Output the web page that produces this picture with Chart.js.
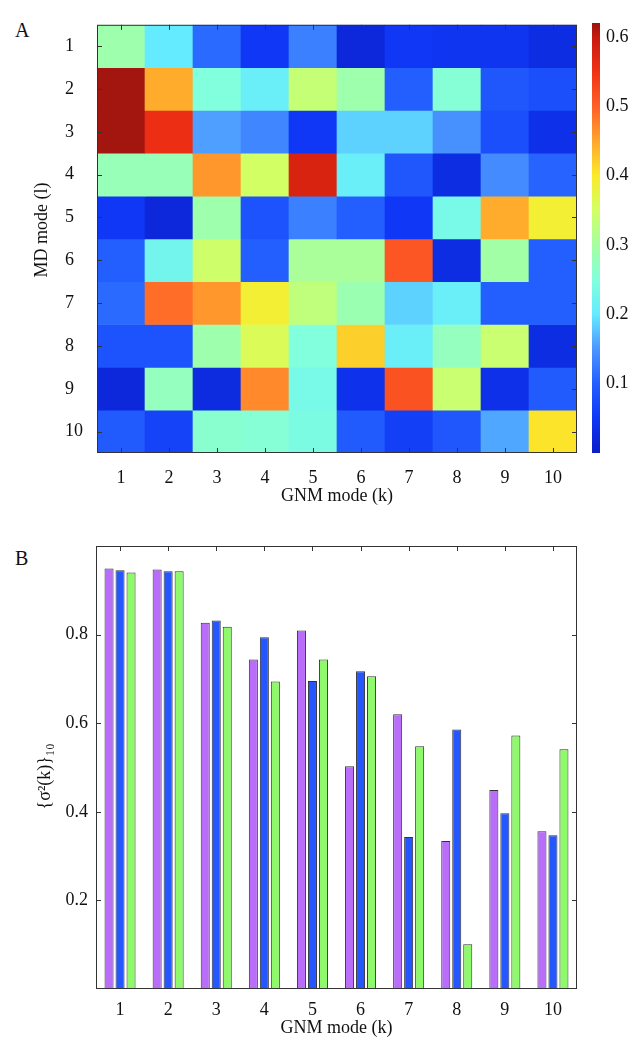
<!DOCTYPE html>
<html>
<head>
<meta charset="utf-8">
<script src="https://cdn.jsdelivr.net/npm/chart.js@4.4.0/dist/chart.umd.min.js"></script>
<style>
  body { margin: 0; background: #fff; }
  #wrap { position: relative; width: 643px; height: 1050px; }
  canvas { position: absolute; }
  .tag { position: absolute; font: 20px "Liberation Serif", serif; line-height: 20px; color: #111; }
</style>
</head>
<body>
<div id="wrap">
  <div class="tag" style="left:15px; top:20px;">A</div>
  <canvas id="heat" width="643" height="520" style="left:0; top:0;"></canvas>
  <canvas id="cbar" width="63" height="520" style="left:580px; top:0;"></canvas>
  <div class="tag" style="left:15px; top:548px;">B</div>
  <canvas id="bars" width="643" height="530" style="left:0; top:520px;"></canvas>
</div>
<script>
// ---- data ----
const gnmModes = ['1', '2', '3', '4', '5', '6', '7', '8', '9', '10'];
const mdModes = ['1', '2', '3', '4', '5', '6', '7', '8', '9', '10'];

// rows = MD mode l (top to bottom), columns = GNM mode k
const heatRows = [
  [0.29, 0.20, 0.11, 0.05, 0.13, 0.02, 0.05, 0.045, 0.045, 0.03],
  [0.615, 0.445, 0.25, 0.21, 0.335, 0.29, 0.10, 0.255, 0.09, 0.08],
  [0.615, 0.555, 0.155, 0.135, 0.05, 0.185, 0.185, 0.145, 0.08, 0.035],
  [0.28, 0.28, 0.46, 0.35, 0.58, 0.21, 0.09, 0.03, 0.14, 0.105],
  [0.05, 0.02, 0.29, 0.085, 0.13, 0.10, 0.05, 0.235, 0.445, 0.39],
  [0.10, 0.225, 0.345, 0.10, 0.305, 0.305, 0.51, 0.03, 0.295, 0.10],
  [0.11, 0.49, 0.46, 0.39, 0.33, 0.285, 0.185, 0.21, 0.10, 0.10],
  [0.085, 0.085, 0.29, 0.36, 0.25, 0.42, 0.21, 0.275, 0.34, 0.03],
  [0.02, 0.275, 0.025, 0.47, 0.235, 0.04, 0.515, 0.34, 0.035, 0.095],
  [0.095, 0.065, 0.26, 0.255, 0.24, 0.095, 0.06, 0.09, 0.16, 0.405]
];
const cbarTicks = [0.1, 0.2, 0.3, 0.4, 0.5, 0.6];
const cbarMax = 0.62;

const set1 = [0.949, 0.947, 0.827, 0.744, 0.809, 0.503, 0.620, 0.334, 0.449, 0.356];
const set2 = [0.945, 0.943, 0.832, 0.794, 0.695, 0.717, 0.343, 0.586, 0.397, 0.347];
const set3 = [0.940, 0.943, 0.818, 0.694, 0.744, 0.706, 0.548, 0.101, 0.572, 0.541];
const barTicks = [0.2, 0.4, 0.6, 0.8];

// ---- style ----
const colorStops = [
  [0.00, [10, 30, 200]],
  [0.05, [15, 55, 245]],
  [0.10, [35, 95, 255]],
  [0.15, [75, 150, 255]],
  [0.20, [100, 235, 255]],
  [0.25, [130, 255, 220]],
  [0.30, [165, 255, 160]],
  [0.35, [210, 255, 100]],
  [0.40, [250, 235, 40]],
  [0.45, [255, 165, 45]],
  [0.50, [255, 95, 40]],
  [0.55, [240, 50, 20]],
  [0.60, [200, 25, 15]],
  [0.62, [150, 20, 15]]
];

function colorFor(v) {
  for (let i = 1; i < colorStops.length; i++) {
    const [v0, c0] = colorStops[i - 1];
    const [v1, c1] = colorStops[i];
    if (v <= v1 || i === colorStops.length - 1) {
      const t = Math.max(0, Math.min(1, (v - v0) / (v1 - v0)));
      const c = c0.map((x, j) => Math.round(x + (c1[j] - x) * t));
      return 'rgb(' + c.join(',') + ')';
    }
  }
}

const font = { family: "'Liberation Serif', 'DejaVu Serif', serif", size: 18 };
const ink = '#111';
const FIG = '\u2007'; // digit-wide space, keeps the row labels left aligned
const noGrid = { display: false, drawTicks: false };

// box + inward tick marks
const framePlugin = {
  id: 'frame',
  afterDatasetsDraw(chart, args, opts) {
    const { ctx, chartArea: a, scales } = chart;
    const len = 5;
    ctx.save();
    ctx.strokeStyle = '#333';
    ctx.lineWidth = 1;
    ctx.strokeRect(a.left + 0.5, a.top + 0.5, a.width - 1, a.height - 1);
    ctx.beginPath();
    scales.x.ticks.forEach((t, i) => {
      const x = Math.round(scales.x.getPixelForTick(i)) + 0.5;
      if (opts.top) { ctx.moveTo(x, a.top); ctx.lineTo(x, a.top + len); }
      if (opts.bottom) { ctx.moveTo(x, a.bottom); ctx.lineTo(x, a.bottom - len); }
    });
    scales.y.ticks.forEach((t, i) => {
      const y = Math.round(scales.y.getPixelForTick(i)) + 0.5;
      ctx.moveTo(a.left, y); ctx.lineTo(a.left + len, y);
      ctx.moveTo(a.right, y); ctx.lineTo(a.right - len, y);
    });
    ctx.stroke();
    ctx.restore();
  }
};

// ---- A: heat map ----
new Chart(document.getElementById('heat'), {
  type: 'bar',
  data: {
    labels: gnmModes,
    datasets: mdModes.map((m, i) => ({
      label: 'MD mode ' + m,
      data: heatRows[i].map(() => [9 - i, 10 - i]),
      backgroundColor: heatRows[i].map(colorFor),
      borderWidth: 0,
      barPercentage: 1,
      categoryPercentage: 1,
      grouped: false
    }))
  },
  options: {
    responsive: false,
    animation: false,
    layout: { padding: { top: 23, right: 66, left: 0, bottom: 0 } },
    plugins: { legend: { display: false }, tooltip: { enabled: false }, frame: { top: true, bottom: true } },
    scales: {
      x: {
        grid: noGrid,
        border: { display: false },
        ticks: { font: font, color: ink, padding: 14, maxRotation: 0 },
        title: { display: true, text: 'GNM mode (k)', font: font, color: ink, padding: { top: 0, bottom: 13 } },
        afterFit(s) { s.height = 67; }
      },
      y: {
        type: 'linear',
        min: 0,
        max: 10,
        afterBuildTicks(s) { s.ticks = mdModes.map((m, i) => ({ value: 9.5 - i })); },
        grid: noGrid,
        border: { display: false },
        ticks: {
          font: font, color: ink, padding: 14,
          callback: (v) => { const t = mdModes[Math.round(9.5 - v)]; return t.length < 2 ? t + FIG : t; }
        },
        title: { display: true, text: FIG + FIG + 'MD mode (l)', font: font, color: ink, padding: { top: 31, bottom: 0 } },
        afterFit(s) { s.width = 97; }
      }
    }
  },
  plugins: [framePlugin]
});

// ---- A: colour bar ----
new Chart(document.getElementById('cbar'), {
  type: 'bar',
  data: {
    labels: [''],
    datasets: [{
      data: [cbarMax],
      backgroundColor(c) {
        const ch = c.chart;
        const ys = ch.scales.y;
        if (!ch.chartArea || !ys) return '#00f';
        const g = ch.ctx.createLinearGradient(0, ys.getPixelForValue(0), 0, ys.getPixelForValue(cbarMax));
        colorStops.forEach(([v, rgb]) => g.addColorStop(v / cbarMax, 'rgb(' + rgb.join(',') + ')'));
        return g;
      },
      borderWidth: 0,
      barPercentage: 1,
      categoryPercentage: 1
    }]
  },
  options: {
    responsive: false,
    animation: false,
    layout: { padding: { top: 23, right: 0, left: 12, bottom: 67 } },
    plugins: { legend: { display: false }, tooltip: { enabled: false } },
    scales: {
      x: { display: false },
      y: {
        position: 'right',
        min: 0,
        max: cbarMax,
        z: 1,
        afterBuildTicks(s) { s.ticks = cbarTicks.map(v => ({ value: v })); },
        grid: { drawOnChartArea: true, drawTicks: false, color: 'rgba(0,0,0,0.75)', lineWidth: 1 },
        border: { display: false },
        ticks: { font: font, color: ink, padding: 6, callback: (v) => v.toFixed(1) },
        afterFit(s) { s.width = 43; }
      }
    }
  }
});

// ---- B: grouped bars ----
const barStyle = { borderColor: '#333', borderWidth: 1, barPercentage: 0.82, categoryPercentage: 0.686 };
new Chart(document.getElementById('bars'), {
  type: 'bar',
  data: {
    labels: gnmModes,
    datasets: [
      Object.assign({ label: 'set1', data: set1, backgroundColor: '#b86ef8' }, barStyle),
      Object.assign({ label: 'set2', data: set2, backgroundColor: '#2457ff' }, barStyle),
      Object.assign({ label: 'set3', data: set3, backgroundColor: '#8ef96a' }, barStyle)
    ]
  },
  options: {
    responsive: false,
    animation: false,
    layout: { padding: { top: 26, right: 66, left: 0, bottom: 0 } },
    plugins: { legend: { display: false }, tooltip: { enabled: false }, frame: { top: true, bottom: false } },
    scales: {
      x: {
        grid: noGrid,
        border: { display: false },
        ticks: { font: font, color: ink, padding: 10, maxRotation: 0 },
        title: { display: true, text: 'GNM mode (k)', font: font, color: ink, padding: { top: 0, bottom: 11 } },
        afterFit(s) { s.height = 61; }
      },
      y: {
        min: 0,
        max: 1,
        afterBuildTicks(s) { s.ticks = barTicks.map(v => ({ value: v })); },
        grid: noGrid,
        border: { display: false },
        ticks: { font: font, color: ink, padding: 8, callback: (v) => v.toFixed(1) },
        title: { display: true, text: '{σ²(k)}₁₀' + FIG + FIG, font: font, color: ink, padding: { top: 34, bottom: 0 } },
        afterFit(s) { s.width = 96; }
      }
    }
  },
  plugins: [framePlugin]
});
</script>
</body>
</html>
